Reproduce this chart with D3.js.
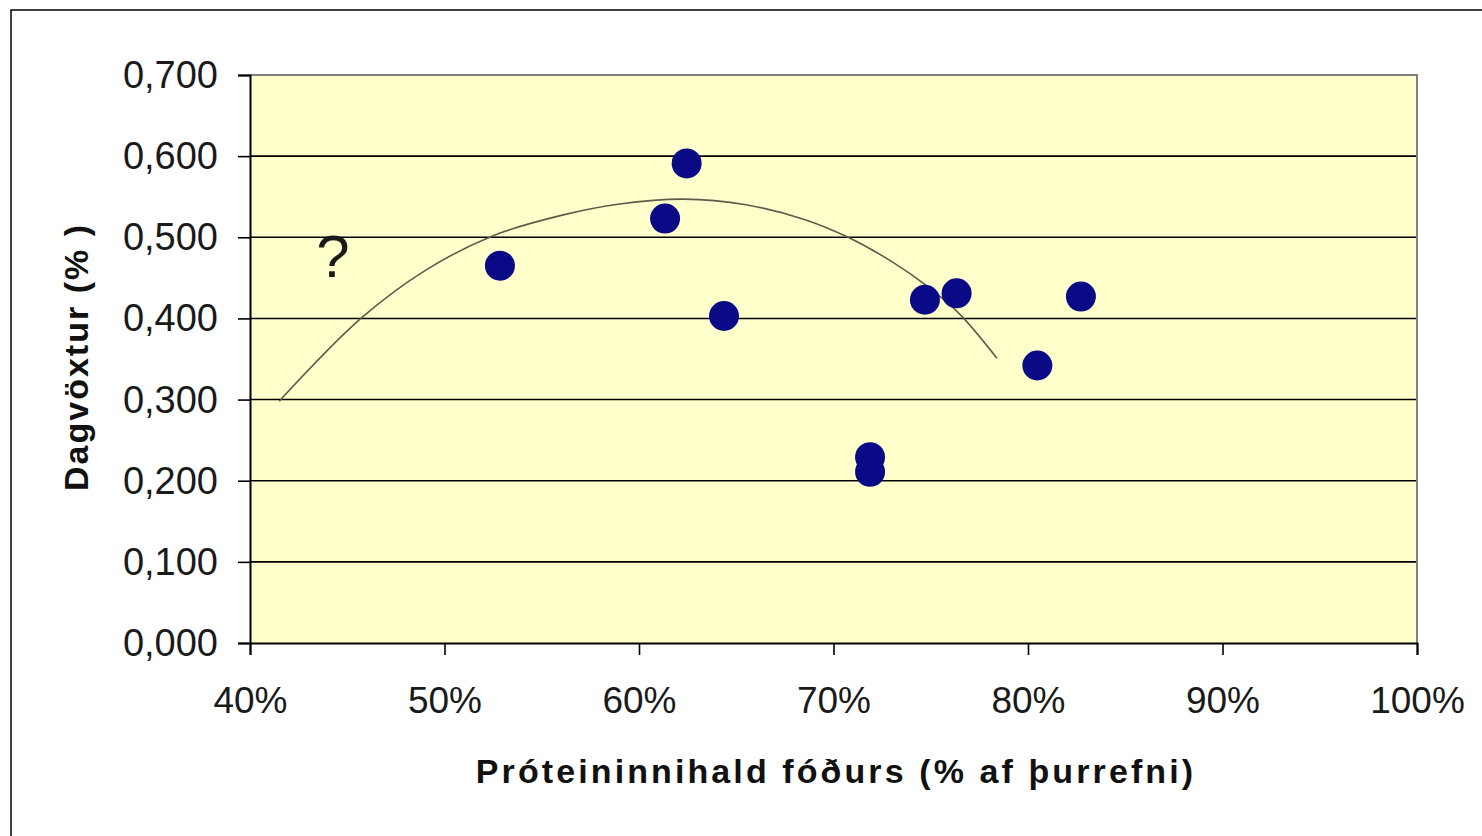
<!DOCTYPE html>
<html>
<head>
<meta charset="utf-8">
<script src="https://cdn.jsdelivr.net/npm/d3@7/dist/d3.min.js"></script>
<style>
  html, body { margin: 0; padding: 0; background: #fff; }
  svg { display: block; }
</style>
</head>
<body>
<svg id="chart" width="1482" height="836"></svg>
<script>
// ---- data ----
const proteinPct = [52.85, 61.34, 62.45, 64.37, 71.88, 71.88, 74.70, 76.33, 80.48, 82.72];
const dailyGrowth = [0.465, 0.523, 0.591, 0.403, 0.229, 0.211, 0.423, 0.431, 0.342, 0.427];

// hand-drawn style trend curve
const curveX = [41.5, 45.7, 49.0, 52.5, 56.0, 59.0, 62.3, 65.5, 68.5, 70.75, 73.0, 74.8, 76.5, 78.4];
const curveY = [0.298, 0.400, 0.459, 0.502, 0.527, 0.541, 0.547, 0.540, 0.522, 0.500, 0.470, 0.440, 0.405, 0.351];

const xTicks = [40, 50, 60, 70, 80, 90, 100];
const xTickLabels = ["40%", "50%", "60%", "70%", "80%", "90%", "100%"];
const yTicks = [0, 0.1, 0.2, 0.3, 0.4, 0.5, 0.6, 0.7];
const yTickLabels = ["0,000", "0,100", "0,200", "0,300", "0,400", "0,500", "0,600", "0,700"];

const xTitle = "Próteininnihald fóðurs (% af þurrefni)";
const yTitle = "Dagvöxtur (% )";
const annotation = "?";

// ---- layout ----
const svg = d3.select("#chart");
const plot = { left: 250, top: 75, right: 1417, bottom: 643 };

const x = d3.scaleLinear().domain([40, 100]).range([plot.left, plot.right]);
const y = d3.scaleLinear().domain([0, 0.7]).range([plot.bottom, plot.top]);

// outer frame
svg.append("rect")
  .attr("x", 11).attr("y", 10)
  .attr("width", 1500).attr("height", 900)
  .attr("fill", "#fff").attr("stroke", "#000").attr("stroke-width", 1.5);

// plot background
svg.append("rect")
  .attr("x", plot.left).attr("y", plot.top)
  .attr("width", plot.right - plot.left).attr("height", plot.bottom - plot.top)
  .attr("fill", "#FFFFCC");

// grid lines
svg.append("g").selectAll("line")
  .data(yTicks.filter(d => d > 0 && d < 0.7))
  .join("line")
  .attr("x1", plot.left).attr("x2", plot.right)
  .attr("y1", d => y(d)).attr("y2", d => y(d))
  .attr("stroke", "#000").attr("stroke-width", 1.6);

// top and right borders (gray)
svg.append("path")
  .attr("d", `M${plot.left},${y(0.7)}H${plot.right}V${plot.bottom}`)
  .attr("fill", "none").attr("stroke", "#808080").attr("stroke-width", 2);

// y axis
const yAxis = d3.axisLeft(y)
  .tickValues(yTicks)
  .tickSize(12)
  .tickPadding(20)
  .tickFormat((d, i) => yTickLabels[i]);
const gy = svg.append("g")
  .attr("transform", `translate(${plot.left},0)`)
  .call(yAxis);
gy.select(".domain").attr("stroke", "#000").attr("stroke-width", 2);
gy.selectAll(".tick line").attr("stroke", "#000").attr("stroke-width", 1.6);
gy.selectAll(".tick text")
  .attr("font-family", "'Liberation Sans', Arial, sans-serif")
  .attr("font-size", 38)
  .attr("fill", "#1a1a1a")
  .attr("dy", "0.33em");

// x axis
const xAxis = d3.axisBottom(x)
  .tickValues(xTicks)
  .tickSize(12)
  .tickPadding(32)
  .tickFormat((d, i) => xTickLabels[i]);
const gx = svg.append("g")
  .attr("transform", `translate(0,${plot.bottom})`)
  .call(xAxis);
gx.select(".domain").attr("stroke", "#000").attr("stroke-width", 2);
gx.selectAll(".tick line").attr("stroke", "#000").attr("stroke-width", 1.6);
gx.selectAll(".tick text")
  .attr("font-family", "'Liberation Sans', Arial, sans-serif")
  .attr("font-size", 37)
  .attr("fill", "#1a1a1a");

// trend curve
const curvePts = curveX.map((d, i) => [d, curveY[i]]);
svg.append("path")
  .datum(curvePts)
  .attr("d", d3.line().x(d => x(d[0])).y(d => y(d[1])).curve(d3.curveCatmullRom.alpha(0.5)))
  .attr("fill", "none")
  .attr("stroke", "#5c5c48")
  .attr("stroke-width", 1.6);

// points
svg.append("g").selectAll("circle")
  .data(proteinPct.map((d, i) => [d, dailyGrowth[i]]))
  .join("circle")
  .attr("cx", d => x(d[0]))
  .attr("cy", d => y(d[1]))
  .attr("r", 15)
  .attr("fill", "#0a0a86");

// annotation "?"
svg.append("text")
  .attr("x", 333).attr("y", 277)
  .attr("text-anchor", "middle")
  .attr("font-family", "'Liberation Sans', Arial, sans-serif")
  .attr("font-size", 60)
  .attr("fill", "#1a1a1a")
  .text(annotation);

// axis titles
svg.append("text")
  .attr("x", 836).attr("y", 783)
  .attr("text-anchor", "middle")
  .attr("font-family", "'Liberation Sans', Arial, sans-serif")
  .attr("font-weight", "bold")
  .attr("font-size", 34)
  .attr("letter-spacing", "3.1px")
  .attr("fill", "#111")
  .text(xTitle);

svg.append("text")
  .attr("transform", `translate(88,357) rotate(-90)`)
  .attr("text-anchor", "middle")
  .attr("font-family", "'Liberation Sans', Arial, sans-serif")
  .attr("font-weight", "bold")
  .attr("font-size", 34)
  .attr("letter-spacing", "2px")
  .attr("fill", "#111")
  .text(yTitle);
</script>
</body>
</html>
